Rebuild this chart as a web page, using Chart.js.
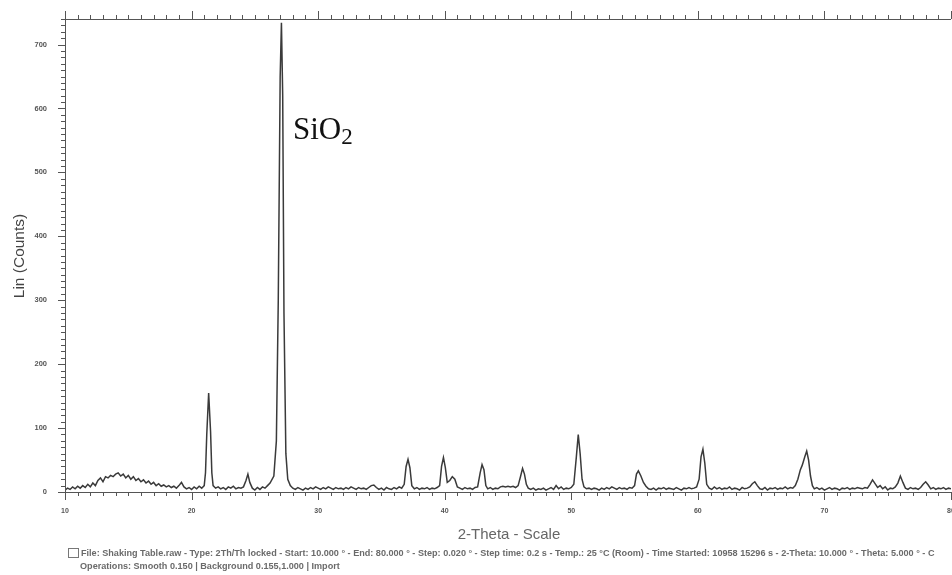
<!DOCTYPE html>
<html>
<head>
<meta charset="utf-8">
<script src="https://cdn.jsdelivr.net/npm/chart.js@4.4.0/dist/chart.umd.min.js"></script>
<style>
body { margin: 0; background: #fff; }
#wrap { position: relative; width: 952px; height: 575px; overflow: hidden; }
#grafico_xrd { position: absolute; left: 0; top: 0; }
#sio2 { position: absolute; left: 293px; top: 111px; font-family: "Liberation Serif", serif; font-size: 31px; color: #111; }
#sio2 sub { font-size: 23px; vertical-align: -5px; line-height: 0; }
.rodape { position: absolute; font-family: "Liberation Sans", Arial, sans-serif; font-size: 9.1px; font-weight: bold; color: #6a6a6a; white-space: nowrap; }
#rodape1 { left: 68px; top: 548px; }
#rodape2 { left: 80px; top: 561px; }
.icone { display: inline-block; width: 9px; height: 8px; border: 1px solid #777; margin-right: 2px; vertical-align: -2px; }
</style>
</head>
<body>
<div id="wrap">
<canvas id="grafico_xrd" width="952" height="575"></canvas>
<div id="sio2">SiO<sub>2</sub></div>
<div class="rodape" id="rodape1"><span class="icone"></span>File: Shaking Table.raw - Type: 2Th/Th locked - Start: 10.000 ° - End: 80.000 ° - Step: 0.020 ° - Step time: 0.2 s - Temp.: 25 °C (Room) - Time Started: 10958 15296 s - 2-Theta: 10.000 ° - Theta: 5.000 ° - C</div>
<div class="rodape" id="rodape2">Operations: Smooth 0.150 | Background 0.155,1.000 | Import</div>
</div>
<script>
// ----------------------- Dados do difratograma --------------------------------------//

var twoTheta = [
    10.0, 10.2, 10.4, 10.6, 10.8, 11.0, 11.2, 11.4, 11.6, 11.8,
    12.0, 12.2, 12.4, 12.6, 12.8, 13.0, 13.2, 13.4, 13.6, 13.8,
    14.0, 14.2, 14.4, 14.6, 14.8, 15.0, 15.2, 15.4, 15.6, 15.8,
    16.0, 16.2, 16.4, 16.6, 16.8, 17.0, 17.2, 17.4, 17.6, 17.8,
    18.0, 18.2, 18.4, 18.6, 18.8, 19.0, 19.2, 19.4, 19.6, 19.8,
    20.0, 20.2, 20.4, 20.6, 20.8, 21.0, 21.1, 21.2, 21.35, 21.5,
    21.6, 21.7, 21.9, 22.1, 22.3, 22.5, 22.7, 22.9, 23.1, 23.3,
    23.5, 23.7, 23.9, 24.1, 24.3, 24.45, 24.6, 24.8, 25.0, 25.2,
    25.4, 25.6, 25.8, 26.0, 26.2, 26.5, 26.7, 26.85, 27.0, 27.1,
    27.2, 27.3, 27.45, 27.6, 27.8, 28.0, 28.2, 28.4, 28.6, 28.8,
    29.0, 29.2, 29.4, 29.6, 29.8, 30.0, 30.2, 30.4, 30.6, 30.8,
    31.0, 31.2, 31.4, 31.6, 31.8, 32.0, 32.2, 32.4, 32.6, 32.8,
    33.0, 33.2, 33.4, 33.6, 33.8, 34.0, 34.2, 34.4, 34.6, 34.8,
    35.0, 35.2, 35.4, 35.6, 35.8, 36.0, 36.2, 36.4, 36.6, 36.8,
    36.95, 37.1, 37.25, 37.4, 37.6, 37.8, 38.0, 38.2, 38.4, 38.6,
    38.8, 39.0, 39.2, 39.4, 39.6, 39.75, 39.9, 40.05, 40.2, 40.4,
    40.6, 40.8, 41.0, 41.2, 41.4, 41.6, 41.8, 42.0, 42.2, 42.4,
    42.6, 42.8, 42.95, 43.1, 43.25, 43.4, 43.6, 43.8, 44.0, 44.2,
    44.4, 44.6, 44.8, 45.0, 45.2, 45.4, 45.6, 45.8, 46.0, 46.15,
    46.3, 46.45, 46.6, 46.8, 47.0, 47.2, 47.4, 47.6, 47.8, 48.0,
    48.2, 48.4, 48.6, 48.8, 49.0, 49.2, 49.4, 49.6, 49.8, 50.0,
    50.2, 50.4, 50.55, 50.7, 50.85, 51.0, 51.2, 51.4, 51.6, 51.8,
    52.0, 52.2, 52.4, 52.6, 52.8, 53.0, 53.2, 53.4, 53.6, 53.8,
    54.0, 54.2, 54.4, 54.6, 54.8, 55.0, 55.15, 55.3, 55.5, 55.7,
    55.9, 56.1, 56.3, 56.5, 56.7, 56.9, 57.1, 57.3, 57.5, 57.7,
    57.9, 58.1, 58.3, 58.5, 58.7, 58.9, 59.1, 59.3, 59.5, 59.7,
    59.9, 60.1, 60.25, 60.4, 60.55, 60.7, 60.9, 61.1, 61.3, 61.5,
    61.7, 61.9, 62.1, 62.3, 62.5, 62.7, 62.9, 63.1, 63.3, 63.5,
    63.7, 63.9, 64.1, 64.3, 64.5, 64.7, 64.9, 65.1, 65.3, 65.5,
    65.7, 65.9, 66.1, 66.3, 66.5, 66.7, 66.9, 67.1, 67.3, 67.5,
    67.7, 67.9, 68.1, 68.25, 68.45, 68.6, 68.75, 68.9, 69.05, 69.2,
    69.4, 69.6, 69.8, 70.0, 70.2, 70.4, 70.6, 70.8, 71.0, 71.2,
    71.4, 71.6, 71.8, 72.0, 72.2, 72.4, 72.6, 72.8, 73.0, 73.2,
    73.4, 73.6, 73.8, 74.0, 74.2, 74.4, 74.6, 74.8, 75.0, 75.2,
    75.4, 75.6, 75.8, 76.0, 76.2, 76.4, 76.6, 76.8, 77.0, 77.2,
    77.4, 77.6, 77.8, 78.0, 78.2, 78.4, 78.6, 78.8, 79.0, 79.2,
    79.4, 79.6, 79.8, 80.0
];

var counts = [
    3, 6, 4, 8, 5, 9, 6, 10, 7, 12,
    8, 14, 10, 18, 22, 16, 24, 22, 26, 24,
    28, 30, 25, 28, 22, 26, 20, 24, 18, 21,
    16, 19, 14, 17, 12, 15, 10, 13, 9, 11,
    8, 10, 7, 9, 6, 10, 15, 8, 5, 7,
    4, 8, 5, 9, 6, 10, 30, 90, 155, 95,
    30, 10, 6, 8, 5, 7, 4, 8, 6, 9,
    5, 7, 6, 8, 18, 28, 15, 6, 3, 7,
    4, 8, 6, 10, 14, 25, 80, 300, 650, 734,
    620, 280, 60, 20, 10, 6, 4, 7, 5, 3,
    6, 4, 7, 5, 8, 6, 4, 7, 5, 8,
    6, 4, 7, 5, 6, 4, 7, 5, 8, 6,
    4, 7, 5, 6, 4, 7, 10, 11, 7, 4,
    6, 3, 7, 5, 4, 7, 5, 8, 6, 12,
    40, 51, 38, 10, 5, 7, 4, 6, 5, 7,
    4, 6, 5, 7, 10, 40, 54, 38, 15, 18,
    24, 20, 8, 6, 4, 7, 5, 6, 4, 7,
    8, 30, 43, 35, 10, 5, 7, 4, 6, 5,
    8, 9, 8, 9, 8, 9, 7, 10, 25, 37,
    28, 12, 6, 4, 6, 3, 5, 4, 6, 3,
    5, 7, 4, 10, 5, 8, 4, 6, 5, 7,
    12, 55, 90, 60, 20, 8, 5, 6, 4, 6,
    5, 3, 6, 4, 7, 5, 8, 6, 4, 7,
    5, 6, 4, 7, 6, 10, 28, 33, 25, 15,
    9, 5, 4, 6, 3, 6, 5, 7, 4, 6,
    5, 4, 7, 5, 3, 6, 5, 7, 5, 6,
    8, 20, 55, 67, 45, 12, 6, 4, 8, 5,
    7, 4, 6, 5, 8, 4, 6, 5, 3, 7,
    5, 6, 8, 13, 16, 10, 5, 4, 7, 3,
    6, 5, 7, 4, 6, 5, 8, 5, 7, 6,
    10, 20, 35, 42, 55, 64, 50, 25, 10, 5,
    7, 4, 6, 3, 5, 7, 4, 6, 5, 3,
    6, 5, 7, 4, 6, 5, 7, 6, 5, 7,
    6, 12, 19, 13, 7, 10, 5, 8, 3, 6,
    5, 8, 14, 25, 15, 6, 4, 7, 5, 6,
    4, 7, 12, 16, 11, 5, 7, 4, 6, 5,
    7, 4, 6, 5
];

var xLabels = [10, 20, 30, 40, 50, 60, 70, 80];
var yLabels = [0, 100, 200, 300, 400, 500, 600, 700];

var pontos = twoTheta.map(function (t, i) { return { x: t, y: counts[i] }; });

// ----------------------- Eixos com marcas (ticks) ------------------------------------//

var eixos = {
    id: 'eixos',
    afterDraw: function (chart) {
        var c = chart.ctx, sx = chart.scales.x, sy = chart.scales.y, a = chart.chartArea;
        c.save();
        c.strokeStyle = '#555';
        c.lineWidth = 1;
        c.beginPath();
        c.moveTo(a.left, a.top + 0.5); c.lineTo(a.right, a.top + 0.5);
        c.moveTo(a.left + 0.5, a.top); c.lineTo(a.left + 0.5, a.bottom);
        c.moveTo(a.left, a.bottom + 0.5); c.lineTo(a.right, a.bottom + 0.5);
        for (var t = 10; t <= 80; t++) {
            var px = Math.round(sx.getPixelForValue(t)) + 0.5;
            var len = t % 10 === 0 ? 8 : 4;
            c.moveTo(px, a.bottom); c.lineTo(px, a.bottom + len);
            c.moveTo(px, a.top); c.lineTo(px, a.top - len);
        }
        for (var v = 0; v <= 740; v += 10) {
            var py = Math.round(sy.getPixelForValue(v)) + 0.5;
            var l = v % 100 === 0 ? 7 : 4;
            c.moveTo(a.left, py); c.lineTo(a.left - l, py);
        }
        c.stroke();

        c.textAlign = 'center';
        c.textBaseline = 'middle';
        c.font = '15px "Liberation Sans", Arial, sans-serif';
        c.fillStyle = '#666';
        c.fillText('2-Theta - Scale', 509, 535);

        c.translate(20, 256);
        c.rotate(-Math.PI / 2);
        c.font = '15.5px "Liberation Sans", Arial, sans-serif';
        c.fillStyle = '#444';
        c.fillText('Lin (Counts)', 0, 0);
        c.restore();
    }
};

// ----------------------- Gráfico ----------------------------------------------------//

var ctx = document.getElementById("grafico_xrd").getContext("2d");
var grafico_xrd = new Chart(ctx, {
    type: 'scatter',
    data: {
        datasets: [{
            data: pontos,
            showLine: true,
            borderColor: '#3a3a3a',
            borderWidth: 1.5,
            pointRadius: 0,
            tension: 0
        }]
    },
    options: {
        responsive: false,
        animation: false,
        layout: { padding: { top: 19, right: 1, left: 0, bottom: 0 } },
        plugins: { legend: { display: false }, tooltip: { enabled: false } },
        scales: {
            x: {
                type: 'linear',
                min: 10,
                max: 80,
                grid: { display: false },
                border: { display: false },
                afterBuildTicks: function (s) {
                    s.ticks = xLabels.map(function (v) { return { value: v }; });
                },
                afterFit: function (s) { s.height = 83; s.paddingLeft = 0; s.paddingRight = 0; },
                ticks: {
                    padding: 7,
                    maxRotation: 0,
                    autoSkip: false,
                    color: '#555',
                    font: { size: 7, weight: 'bold', family: '"Liberation Sans", Arial, sans-serif' }
                }
            },
            y: {
                min: 0,
                max: 740,
                grid: { display: false },
                border: { display: false },
                afterBuildTicks: function (s) {
                    s.ticks = yLabels.map(function (v) { return { value: v }; });
                },
                afterFit: function (s) { s.width = 65; s.paddingTop = 0; s.paddingBottom = 0; },
                ticks: {
                    padding: 10,
                    color: '#555',
                    font: { size: 7.5, weight: 'bold', family: '"Liberation Sans", Arial, sans-serif' }
                }
            }
        }
    },
    plugins: [eixos]
});
</script>
</body>
</html>
